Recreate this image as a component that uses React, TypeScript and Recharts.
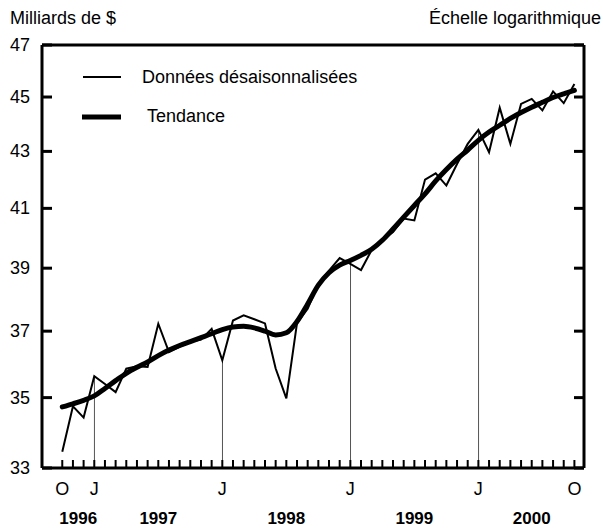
import { ComposedChart, Line, Bar, XAxis, YAxis, ReferenceLine } from 'recharts';

// monthly, Oct 1996 .. Oct 2000
const startYear = 1996;
const startMonth = 10;

const rawSeries = [
  33.45, 34.75, 34.42, 35.63, 35.4, 35.16, 35.86, 35.93, 35.91, 37.23, 36.36, 36.52,
  36.67, 36.74, 37.07, 36.11, 37.33, 37.49, 37.37, 37.24, 35.86, 34.98, 37.25, 37.7,
  38.49, 38.92, 39.33, 39.14, 38.94, 39.6, 39.92, 40.2, 40.65, 40.59, 42.0, 42.22,
  41.79, 42.55, 43.27, 43.78, 42.97, 44.6, 43.27, 44.74, 44.93, 44.5, 45.21, 44.77,
  45.49,
];

const trendSeries = [
  34.73, 34.82, 34.92, 35.05, 35.27, 35.5, 35.72, 35.9, 36.06, 36.25, 36.42, 36.56,
  36.68, 36.8, 36.92, 37.05, 37.13, 37.15, 37.1, 37.0, 36.88, 36.95, 37.3, 37.85,
  38.45, 38.85, 39.1, 39.25, 39.42, 39.62, 39.92, 40.3, 40.7, 41.1, 41.5, 41.95,
  42.35, 42.72, 43.05, 43.4, 43.7, 43.95, 44.2, 44.42, 44.62, 44.8, 44.98, 45.12,
  45.25,
];

const yTicks = [33, 35, 37, 39, 41, 43, 45, 47];
const monthLetters = ['J', 'F', 'M', 'A', 'M', 'J', 'J', 'A', 'S', 'O', 'N', 'D'];

const data = rawSeries.map((v, i) => {
  const m = (startMonth - 1 + i) % 12;
  const year = startYear + Math.floor((startMonth - 1 + i) / 12);
  const last = i === rawSeries.length - 1;
  return {
    i,
    year,
    raw: v,
    trend: trendSeries[i],
    jan: m === 0 ? v : null,
    label: m === 0 || i === 0 || last ? monthLetters[m] : '',
  };
});

const years = Array.from(new Set(data.map((d) => d.year)));
const yearCenters = years.map((y) => {
  const idx = data.filter((d) => d.year === y).map((d) => d.i);
  return (Math.min(...idx) + Math.max(...idx) + 1) / 2;
});

const font = '"Liberation Sans", Arial, sans-serif';
const fs = 18;
const xDomain = [-1.9, 48.9];

function LeftTick({ x, y, payload }: any) {
  return (
    <g>
      <line x1={x} x2={x + 10} y1={y} y2={y} stroke="#000" strokeWidth={3} />
      <text x={x - 12} y={y + 6} textAnchor="end" fontSize={fs} fontFamily={font} fill="#000">
        {payload.value}
      </text>
    </g>
  );
}

function RightTick({ x, y }: any) {
  return <line x1={x} x2={x - 10} y1={y} y2={y} stroke="#000" strokeWidth={3} />;
}

function MonthTick({ x, y, payload }: any) {
  const d = data[payload.value];
  return (
    <g>
      <line x1={x} x2={x} y1={y} y2={y - 8} stroke="#000" strokeWidth={2} />
      {d && d.label ? (
        <text x={x} y={y + 27} textAnchor="middle" fontSize={fs} fontFamily={font} fill="#000">
          {d.label}
        </text>
      ) : null}
    </g>
  );
}

function YearTick({ x, y, index }: any) {
  return (
    <text x={x} y={y + 26} textAnchor="middle" fontSize={17} fontWeight="bold" fontFamily={font} fill="#000">
      {years[index]}
    </text>
  );
}

function LegendBox() {
  return (
    <div style={{ position: 'absolute', left: 80, top: 65, fontFamily: font, fontSize: fs, color: '#000' }}>
      <div style={{ display: 'flex', alignItems: 'center', height: 24 }}>
        <svg width={62} height={10}>
          <line x1={3} x2={41} y1={5} y2={5} stroke="#000" strokeWidth={2} />
        </svg>
        <span>Données désaisonnalisées</span>
      </div>
      <div style={{ display: 'flex', alignItems: 'center', height: 24, marginTop: 15 }}>
        <svg width={67} height={10}>
          <line x1={2} x2={41} y1={6} y2={6} stroke="#000" strokeWidth={5} />
        </svg>
        <span>Tendance</span>
      </div>
    </div>
  );
}

export default function App() {
  return (
    <div style={{ position: 'absolute', left: 0, top: 0, width: 603, height: 531, background: '#fff', fontFamily: font }}>
      <div style={{ position: 'absolute', left: 10, top: 8, fontSize: fs }}>Milliards de $</div>
      <div style={{ position: 'absolute', right: 2, top: 8, fontSize: fs }}>Échelle logarithmique</div>
      <ComposedChart width={603} height={531} data={data} margin={{ top: 45, right: 0, bottom: 0, left: 0 }}>
        <XAxis
          xAxisId="m"
          dataKey="i"
          type="number"
          domain={xDomain}
          allowDataOverflow
          ticks={data.map((d) => d.i)}
          interval={0}
          height={30}
          tickSize={0}
          tickMargin={0}
          tick={<MonthTick />}
          axisLine={{ stroke: '#000', strokeWidth: 3 }}
        />
        <XAxis
          xAxisId="y"
          dataKey="i"
          type="number"
          domain={xDomain}
          allowDataOverflow
          ticks={yearCenters}
          interval={0}
          height={33}
          tickSize={0}
          tickMargin={0}
          tick={<YearTick />}
          axisLine={false}
          tickLine={false}
        />
        <YAxis
          yAxisId="l"
          type="number"
          scale="log"
          domain={[33, 47]}
          allowDataOverflow
          ticks={yTicks}
          interval={0}
          width={42}
          tickSize={0}
          tickMargin={0}
          tick={<LeftTick />}
          axisLine={{ stroke: '#000', strokeWidth: 3 }}
        />
        <YAxis
          yAxisId="r"
          orientation="right"
          type="number"
          scale="log"
          domain={[33, 47]}
          allowDataOverflow
          ticks={yTicks}
          interval={0}
          width={19}
          tickSize={0}
          tickMargin={0}
          tick={<RightTick />}
          axisLine={{ stroke: '#000', strokeWidth: 3 }}
        />
        <ReferenceLine xAxisId="m" yAxisId="l" y={47} stroke="#000" strokeWidth={3} />
        <Bar xAxisId="m" yAxisId="l" dataKey="jan" barSize={1} fill="#555" isAnimationActive={false} />
        <Line
          xAxisId="m"
          yAxisId="l"
          dataKey="raw"
          type="linear"
          stroke="#000"
          strokeWidth={2}
          dot={false}
          isAnimationActive={false}
        />
        <Line
          xAxisId="m"
          yAxisId="l"
          dataKey="trend"
          type="monotone"
          stroke="#000"
          strokeWidth={5}
          strokeLinecap="round"
          dot={false}
          isAnimationActive={false}
        />
      </ComposedChart>
      <LegendBox />
    </div>
  );
}
